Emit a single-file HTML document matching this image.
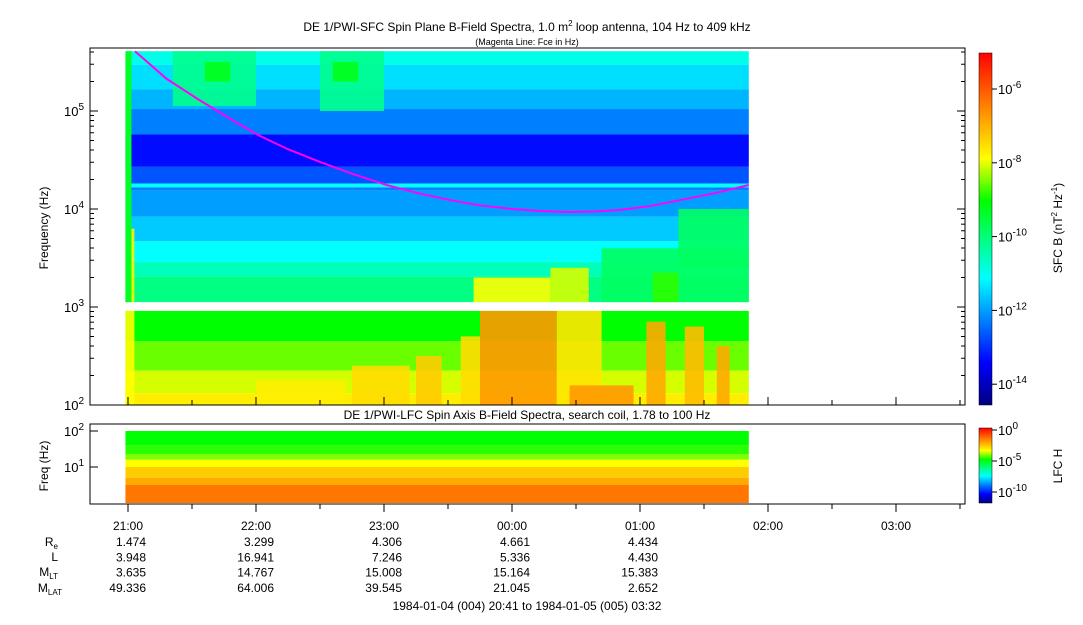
<!DOCTYPE html>
<html><head><meta charset="utf-8"><style>
body{margin:0;background:#fff;width:1083px;height:620px;overflow:hidden;font-family:"Liberation Sans",sans-serif}
svg text{font-family:"Liberation Sans",sans-serif;fill:#000}
</style></head><body>
<svg id="c" width="1083" height="620" xmlns="http://www.w3.org/2000/svg">
<defs>
<linearGradient id="jet" x1="0" y1="1" x2="0" y2="0">
<stop offset="0" stop-color="#000080"/><stop offset="0.12" stop-color="#0000ff"/><stop offset="0.36" stop-color="#00ffff"/><stop offset="0.5" stop-color="#00ff60"/><stop offset="0.58" stop-color="#00ff00"/><stop offset="0.7" stop-color="#ffff00"/><stop offset="0.85" stop-color="#ff8000"/><stop offset="1" stop-color="#ff0000"/>
</linearGradient>
</defs>
<g id="upper"></g><g id="lower"></g><g id="axes"></g>
</svg>
<script>
// time in hours after 21:00 ; frequency in log10(Hz)
const bandLogF=[5.61,5.47,5.22,5.02,4.76,4.43,4.26,4.22,4.19,3.92,3.67,3.46,3.31,3.05];
const bandLevel=[0.38,0.33,0.29,0.24,0.13,0.2,0.36,0.24,0.27,0.31,0.36,0.42,0.47];
const lowLogF=[2.96,2.65,2.35,2.12,2.0];
const lowLevel=[0.58,0.63,0.68,0.72];
const patches=[ // t0,t1,logf0,logf1,level
[0.35,1.0,5.05,5.61,0.46],[1.5,2.0,5.0,5.61,0.46],[0.6,0.8,5.3,5.5,0.56],[1.6,1.8,5.3,5.5,0.56],
[3.7,4.85,3.05,3.6,0.5],[4.3,4.85,3.4,4.0,0.5],[2.7,3.3,3.05,3.3,0.7],[3.3,3.6,3.05,3.4,0.68],[4.1,4.3,3.05,3.35,0.6],
[-0.02,0.05,3.05,3.8,0.72],[-0.02,0.05,2.0,2.96,0.7],
[2.75,3.35,2.0,2.96,0.82],[2.6,2.75,2.0,2.7,0.74],[3.35,3.7,2.0,2.96,0.73],[3.45,3.95,2.0,2.2,0.82],
[1.75,2.2,2.0,2.4,0.74],[2.25,2.45,2.0,2.5,0.76],[4.05,4.2,2.0,2.85,0.8],[4.35,4.5,2.0,2.8,0.78],[4.6,4.7,2.0,2.6,0.8],
[1.0,1.7,2.0,2.25,0.72]
];
const fceT=[0.055,0.3,0.56,0.8,1.016,1.25,1.5,1.75,2.02,2.27,2.52,2.76,3.0,3.22,3.44,3.64,3.84,4.08,4.31,4.58,4.85];
const fceLogF=[5.61,5.33,5.11,4.92,4.755,4.61,4.48,4.36,4.245,4.16,4.09,4.035,4.0,3.98,3.97,3.975,3.99,4.03,4.09,4.16,4.245];
const lfcLogF=[2.0,1.6,1.35,1.2,1.0,0.7,0.5,0.0];
const lfcLevel=[0.58,0.6,0.64,0.7,0.76,0.8,0.86];
const timeTicks=["21:00","22:00","23:00","00:00","01:00","02:00","03:00"];
const ephem=[["1.474","3.948","3.635","49.336"],["3.299","16.941","14.767","64.006"],["4.306","7.246","15.008","39.545"],["4.661","5.336","15.164","21.045"],["4.434","4.430","15.383","2.652"]];

const X=t=>128+t*128, Y=lf=>405-(lf-2)*98, YL=lf=>Math.min(503,431+(2-lf)*36);
const T0=-0.02,T1=4.85;
function jet(v){const s=[[0,[0,0,128]],[0.12,[0,0,255]],[0.36,[0,255,255]],[0.5,[0,255,96]],[0.58,[0,255,0]],[0.7,[255,255,0]],[0.85,[255,128,0]],[1,[255,0,0]]];
for(let i=1;i<s.length;i++)if(v<=s[i][0]){const a=s[i-1],b=s[i],f=(v-a[0])/(b[0]-a[0]);return 'rgb('+a[1].map((c,k)=>Math.round(c+(b[1][k]-c)*f)).join(',')+')';}return 'rgb(255,0,0)';}
const NS='http://www.w3.org/2000/svg';
function mk(p,tag,at){const e=document.createElementNS(NS,tag);for(const k in at)e.setAttribute(k,at[k]);p.appendChild(e);return e;}
const up=document.getElementById('upper'),lo=document.getElementById('lower'),ax=document.getElementById('axes');
bandLevel.forEach((v,i)=>{const r=mk(up,'rect',{x:X(T0),y:Y(bandLogF[i]),width:X(T1)-X(T0),height:Y(bandLogF[i+1])-Y(bandLogF[i]),fill:jet(v)});

});
lowLevel.forEach((v,i)=>{const r=mk(up,'rect',{x:X(T0),y:Y(lowLogF[i]),width:X(T1)-X(T0),height:Y(lowLogF[i+1])-Y(lowLogF[i]),fill:jet(v)});

});
patches.forEach(p=>{const r=mk(up,'rect',{x:X(p[0]),y:Y(p[3]),width:X(p[1])-X(p[0]),height:Y(p[2])-Y(p[3]),fill:jet(p[4]),opacity:0.9});

});
const gc=mk(up,'rect',{x:X(T0),y:Y(5.61),width:6,height:Y(3.05)-Y(5.61),fill:jet(0.55)});


const pts=fceT.map((t,i)=>X(t)+','+Y(fceLogF[i])).join(' ');
const fl=mk(up,'polyline',{points:pts,fill:'none',stroke:'#ff00ff','stroke-width':2});


lfcLevel.forEach((v,i)=>{const r=mk(lo,'rect',{x:X(T0),y:YL(lfcLogF[i]),width:X(T1)-X(T0),height:YL(lfcLogF[i+1])-YL(lfcLogF[i]),fill:jet(v)});

});
mk(ax,'rect',{x:90,y:48,width:875,height:357,fill:'none',stroke:'#000'});
mk(ax,'rect',{x:90,y:424,width:875,height:80,fill:'none',stroke:'#000'});
mk(ax,'rect',{x:979,y:53,width:13,height:352,fill:'url(#jet)',stroke:'#000','stroke-width':0.5});
mk(ax,'rect',{x:979,y:428,width:13,height:75,fill:'url(#jet)',stroke:'#000','stroke-width':0.5});
function txt(x,y,s,o){const t=mk(ax,'text',Object.assign({x:x,y:y,'font-size':12},o||{}));t.innerHTML=s;return t;}
[2,3,4,5].forEach(d=>{const y=Y(d);mk(ax,'line',{x1:90,x2:98,y1:y,y2:y,stroke:'#000'});mk(ax,'line',{x1:957,x2:965,y1:y,y2:y,stroke:'#000'});
const t=txt(84,y+5,'10<tspan dy="-6" font-size="10">'+d+'</tspan>',{'text-anchor':'end','font-size':13});


for(let m=2;m<10;m++){const ym=Y(d+Math.log10(m));if(ym>48){mk(ax,'line',{x1:90,x2:94,y1:ym,y2:ym,stroke:'#000'});mk(ax,'line',{x1:961,x2:965,y1:ym,y2:ym,stroke:'#000'});}}});
[1,2].forEach(d=>{const y=YL(d);mk(ax,'line',{x1:90,x2:98,y1:y,y2:y,stroke:'#000'});txt(84,y+5,'10<tspan dy="-6" font-size="10">'+d+'</tspan>',{'text-anchor':'end','font-size':13});});
[-6,-8,-10,-12,-14].forEach((e,i)=>{const y=89+i*73.8;mk(ax,'line',{x1:992,x2:997,y1:y,y2:y,stroke:'#000'});txt(998,y+5,'10<tspan dy="-6" font-size="10">'+e+'</tspan>',{'font-size':13});});
[0,-5,-10].forEach((e,i)=>{const y=430+i*31;mk(ax,'line',{x1:992,x2:997,y1:y,y2:y,stroke:'#000'});txt(998,y+5,'10<tspan dy="-6" font-size="10">'+e+'</tspan>',{'font-size':13});});
for(let k=-1;k<=13;k++){const x=128+k*64;if(x<90||x>965)continue;const L=k%2==0?8:5;mk(ax,'line',{x1:x,x2:x,y1:504,y2:504+L,stroke:'#000'});mk(ax,'line',{x1:x,x2:x,y1:405,y2:405-L,stroke:'#000'});}
timeTicks.forEach((s,i)=>{const t=txt(128+i*128,530,s,{'text-anchor':'middle'});

});
txt(58,546,'R<tspan font-size="8" dy="3">e</tspan>',{'text-anchor':'end'});
txt(58,561,'L',{'text-anchor':'end'});
txt(58,576,'M<tspan font-size="8" dy="3">LT</tspan>',{'text-anchor':'end'});
txt(62,592,'M<tspan font-size="8" dy="3">LAT</tspan>',{'text-anchor':'end'});
ephem.forEach((col,i)=>col.forEach((v,j)=>txt(146+i*128,546+j*15.3,v,{'text-anchor':'end'})));
txt(527,610,'1984-01-04 (004) 20:41 to 1984-01-05 (005) 03:32',{'text-anchor':'middle'});
txt(527,31,'DE 1/PWI-SFC  Spin Plane B-Field Spectra, 1.0 m<tspan font-size="8" dy="-5">2</tspan><tspan dy="5"> loop antenna, 104 Hz to 409 kHz</tspan>',{'text-anchor':'middle'});
txt(527,45,'(Magenta Line: Fce in Hz)',{'text-anchor':'middle','font-size':9});
txt(527,419,'DE 1/PWI-LFC  Spin Axis B-Field Spectra, search coil, 1.78 to 100 Hz',{'text-anchor':'middle'});
txt(48,228,'Frequency (Hz)',{'text-anchor':'middle',transform:'rotate(-90 48 228)'});
txt(48,466,'Freq (Hz)',{'text-anchor':'middle',transform:'rotate(-90 48 466)'});
txt(1062,228,'SFC B (nT<tspan font-size="8" dy="-5">2</tspan><tspan dy="5"> Hz</tspan><tspan font-size="8" dy="-5">-1</tspan><tspan dy="5">)</tspan>',{'text-anchor':'middle',transform:'rotate(-90 1062 228)'});
txt(1062,466,'LFC H',{'text-anchor':'middle',transform:'rotate(-90 1062 466)'});
</script>
</body></html>
